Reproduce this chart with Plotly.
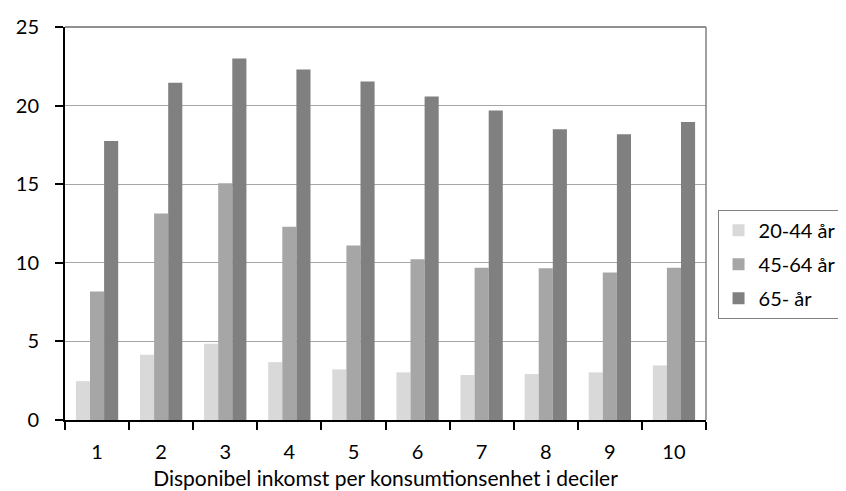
import plotly.graph_objects as go

deciles = [1, 2, 3, 4, 5, 6, 7, 8, 9, 10]
tick_labels = ["1", "2", "3", "4", "5", "6", "7", "8", "9", "10"]
series_names = ["20-44 år", "45-64 år", "65- år"]
age_20_44 = [2.47, 4.15, 4.85, 3.68, 3.22, 3.03, 2.86, 2.92, 3.03, 3.47]
age_45_64 = [8.17, 13.13, 15.06, 12.29, 11.10, 10.22, 9.69, 9.65, 9.39, 9.69]
age_65 = [17.75, 21.45, 23.0, 22.3, 21.53, 20.58, 19.69, 18.49, 18.17, 18.95]
colors = ["#d9d9d9", "#a6a6a6", "#808080"]

FONT = "Lato, Carlito, Calibri, sans-serif"

fig = go.Figure()
for name, vals, col in zip(series_names, [age_20_44, age_45_64, age_65], colors):
    fig.add_trace(go.Bar(x=deciles, y=vals, name=name, legendgroup=name,
                         marker=dict(color=col, line=dict(width=0))))

fig.update_layout(
    width=846, height=491,
    margin=dict(l=57, r=131, t=19, b=79),
    paper_bgcolor="white", plot_bgcolor="white",
    barmode="group", bargap=0.34, bargroupgap=0,
    font=dict(family=FONT, size=20, color="black"),
    showlegend=True,
    legend=dict(x=1.018, y=0.535, xanchor="left", yanchor="top",
                bordercolor="#808080", borderwidth=1, bgcolor="white",
                font=dict(size=20), itemwidth=30, tracegroupgap=5,
                traceorder="grouped"),
    xaxis=dict(range=[0.5, 10.5], tickvals=deciles, ticktext=tick_labels,
               ticks="", showgrid=False, zeroline=False,
               showline=True, linecolor="black", linewidth=2,
               minor=dict(tickvals=[i + 0.5 for i in range(0, 11)], ticks="outside",
                          ticklen=8, tickcolor="black", tickwidth=1.5, showgrid=False),
               ticklabelstandoff=13, automargin=False,
               title=dict(text="Disponibel inkomst per konsumtionsenhet i deciler",
                          font=dict(size=21), standoff=9)),
    yaxis=dict(range=[0, 25], tickvals=[0, 5, 10, 15, 20, 25],
               ticks="outside", ticklen=8, tickcolor="black", tickwidth=1.5,
               showgrid=True, gridcolor="#a6a6a6", gridwidth=1, zeroline=False,
               showline=True, linecolor="black", linewidth=2,
               ticklabelstandoff=12, automargin=False),
    shapes=[
        dict(type="line", xref="paper", yref="paper", x0=0, x1=1, y0=1, y1=1,
             line=dict(color="#222222", width=1.2)),
        dict(type="line", xref="paper", yref="paper", x0=1, x1=1, y0=0, y1=1,
             line=dict(color="#808080", width=1.5)),
    ],
)

fig.write_html("out.html")
